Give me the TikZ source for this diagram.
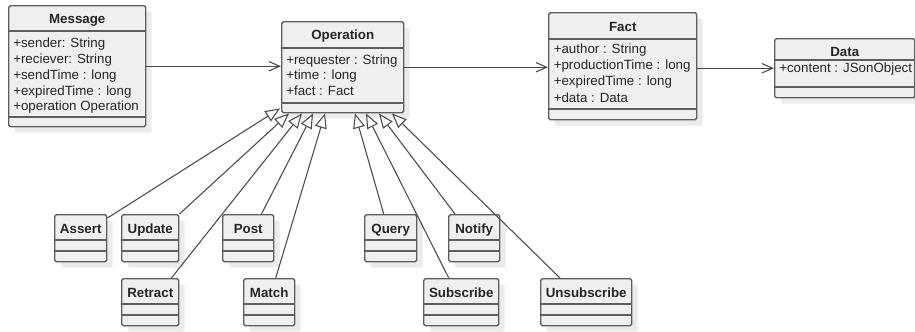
\documentclass[tikz,border=0pt]{standalone}
\usepackage{fontspec}
\setmainfont{Liberation Sans}
\usetikzlibrary{calc,arrows.meta,shadows}

\newdimen\px \px=0.75pt

\definecolor{boxline}{HTML}{5E5E5E}
\definecolor{boxfill}{HTML}{EFEFEF}
\definecolor{shadowgrey}{HTML}{EBEBEB}
\definecolor{wire}{HTML}{4A4A4A}

\tikzset{
  classbox/.style={draw=boxline, fill=boxfill, line width=1.1pt, rounded corners=1.2pt,
    anchor=north west, inner sep=0pt,
    drop shadow={shadow xshift=6\px, shadow yshift=-6\px, fill=shadowgrey, opacity=1}},
  divider/.style={draw=boxline, line width=1.1pt},
  classtitle/.style={anchor=base, inner sep=0pt, font=\fontsize{10}{12}\selectfont\bfseries, text=black!85},
  attr/.style={anchor=base west, inner sep=0pt, font=\fontsize{10}{12}\selectfont, text=black!85},
  assoc/.style={draw=wire, line width=0.8pt, -{Straight Barb[length=8pt,width=7pt,line width=0.8pt]}},
  inherit/.style={draw=wire, line width=0.8pt, -{Triangle[open,fill=white,length=11pt,width=9pt,line width=0.8pt]}}
}

\begin{document}
\begin{tikzpicture}[x=1\px,y=-1\px]
\useasboundingbox (0,0) rectangle (915,332);

% Message
\node[classbox, minimum width=137\px, minimum height=121\px] (msg) at (8,5) {};
\draw[divider] ($(msg.north west)+(0,26)$) -- ($(msg.north east)+(0,26)$);
\draw[divider] ($(msg.north west)+(0,112)$) -- ($(msg.north east)+(0,112)$);
\node[classtitle] (msg-title) at ($(msg.north)+(0,18.5)$) {Message};
\foreach \txt [count=\i] in {+sender: String, +reciever: String, +sendTime : long, +expiredTime : long, +operation Operation}
  \node[attr] (msg-\i) at ($(msg.north west)+(5,{42.7+(\i-1)*15.8})$) {\txt};

% Operation
\node[classbox, minimum width=122\px, minimum height=91\px] (op) at (281,21) {};
\draw[divider] ($(op.north west)+(0,27)$) -- ($(op.north east)+(0,27)$);
\draw[divider] ($(op.north west)+(0,82)$) -- ($(op.north east)+(0,82)$);
\node[classtitle] (op-title) at ($(op.north)+(0,19)$) {Operation};
\foreach \txt [count=\i] in {+requester : String, +time : long, +fact : Fact}
  \node[attr] (op-\i) at ($(op.north west)+(5,{43.3+(\i-1)*15.6})$) {\txt};

% Fact
\node[classbox, minimum width=148\px, minimum height=107\px] (fact) at (548,12) {};
\draw[divider] ($(fact.north west)+(0,27)$) -- ($(fact.north east)+(0,27)$);
\draw[divider] ($(fact.north west)+(0,97)$) -- ($(fact.north east)+(0,97)$);
\node[classtitle] (fact-title) at ($(fact.north)+(0,19.5)$) {Fact};
\foreach \txt [count=\i] in {+author : String, +productionTime : long, +expiredTime : long, +data : Data}
  \node[attr] (fact-\i) at ($(fact.north west)+(5.5,{41.7+(\i-1)*16.1})$) {\txt};

% Data
\node[classbox, minimum width=140\px, minimum height=59\px] (data) at (774,38) {};
\draw[divider] ($(data.north west)+(0,22)$) -- ($(data.north east)+(0,22)$);
\draw[divider] ($(data.north west)+(0,49)$) -- ($(data.north east)+(0,49)$);
\node[classtitle] (data-title) at ($(data.north)+(0,18)$) {Data};
\node[attr] (data-1) at ($(data.north west)+(5,34.5)$) {+content : JSonObject};

% subclasses
\foreach \nm/\xx/\yy/\ww/\ttl in {assert/54/214/52/Assert, update/121/214/57/Update,
    post/222/214/51/Post, query/364/214/52/Query, notify/448/214/51/Notify,
    retract/121/278/57/Retract, match/243/278/51/Match,
    subscribe/423/278/75/Subscribe, unsubscribe/540/278/91/Unsubscribe} {
  \node[classbox, minimum width=\ww\px, minimum height=47\px] (\nm) at (\xx,\yy) {};
  \draw[divider] ($(\nm.north west)+(0,26)$) -- ($(\nm.north east)+(0,26)$);
  \draw[divider] ($(\nm.north west)+(0,37)$) -- ($(\nm.north east)+(0,37)$);
  \node[classtitle] (\nm-title) at ($(\nm.north)+(0,19)$) {\ttl};
}

% associations
\draw[assoc] (msg.east) -- (msg.east -| op.west);
\draw[assoc] (op.east) -- (op.east -| fact.west);
\draw[assoc] (fact.east |- data.west) -- (data.west);

% generalizations
\draw[inherit] ($(assert.north east)+(0,4)$) -- ($(op.south west)+(-1,-5)$);
\draw[inherit] (update.north east) -- ($(op.south west)+(8,0)$);
\draw[inherit] ($(retract.north east)+(-8,0)$) -- ($(op.south west)+(21,0)$);
\draw[inherit] ($(post.north east)+(-13,0)$) -- ($(op.south west)+(32,0)$);
\draw[inherit] ($(match.north)+(6.5,0)$) -- ($(op.south west)+(44,0)$);
\draw[inherit] ($(query.north)+(-7,0)$) -- ($(op.south west)+(74,0)$);
\draw[inherit] ($(subscribe.north)+(-12.5,0)$) -- ($(op.south west)+(85,0)$);
\draw[inherit] ($(notify.north west)+(7,0)$) -- ($(op.south west)+(98,0)$);
\draw[inherit] ($(unsubscribe.north west)+(20,0)$) -- ($(op.south west)+(111,0)$);
\end{tikzpicture}
\end{document}
